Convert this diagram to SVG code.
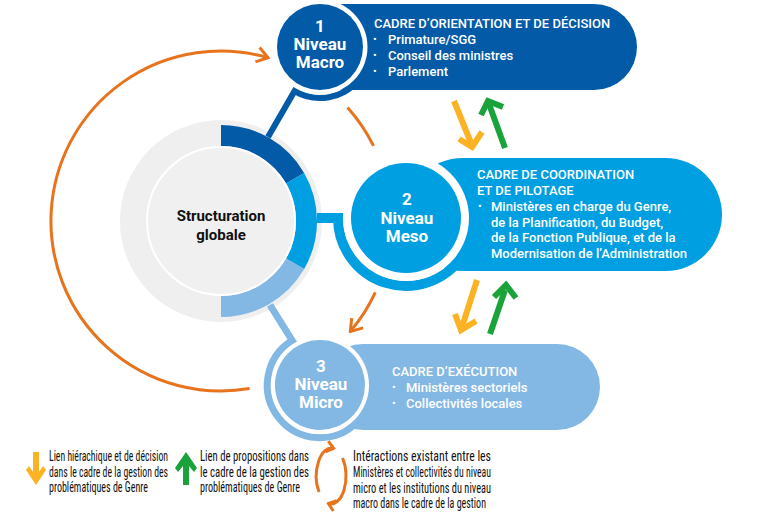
<svg xmlns="http://www.w3.org/2000/svg" width="779" height="513" viewBox="0 0 779 513">
<defs>
<style>
.dk{fill:#035BA8}.md{fill:#009FE1}.lt{fill:#83B8E4}
.wh{fill:#ffffff}
.ctit{font-family:Roboto,"Liberation Sans",sans-serif;font-size:17px;font-weight:700;fill:#fff;text-anchor:middle}
.tt{font-family:Roboto,"Liberation Sans",sans-serif;font-size:13px;font-weight:500;fill:#fff}
.bul{font-family:Roboto,"Liberation Sans",sans-serif;font-size:11px;fill:#fff}
.leg{font-family:"Roboto Condensed","Liberation Sans Narrow",Roboto,sans-serif;font-size:15.5px;fill:#111}
.orng{fill:none;stroke:#E8731D;stroke-width:3}
.ya{fill:none;stroke:#FBB223;stroke-width:6;stroke-linejoin:miter}
.ga{fill:none;stroke:#19A33A;stroke-width:6;stroke-linejoin:miter}
</style>
<marker id="oh" markerUnits="userSpaceOnUse" markerWidth="16" markerHeight="20" viewBox="-14 -10 16 20" refX="0" refY="0" orient="auto">
<path d="M-11,-7.5 L0,0 L-11,7.5" fill="none" stroke="#E8731D" stroke-width="3"/>
</marker>
<marker id="ohs" markerUnits="userSpaceOnUse" markerWidth="12" markerHeight="14" viewBox="-10 -7 12 14" refX="0" refY="0" orient="auto">
<path d="M-7,-5.5 L0,0 L-7,5.5" fill="none" stroke="#E8731D" stroke-width="3"/>
</marker>
</defs>
<rect width="779" height="513" fill="#ffffff"/>

<g id="global">
<circle cx="221" cy="221" r="101" fill="#EFEFEF"/>
<path d="M221,135.5 A85.5,85.5 0 0 1 295.05,178.25" fill="none" stroke="#035BA8" stroke-width="21"/>
<path d="M295.05,178.25 A85.5,85.5 0 0 1 295.05,263.75" fill="none" stroke="#009FE1" stroke-width="21"/>
<path d="M295.05,263.75 A85.5,85.5 0 0 1 221,306.5" fill="none" stroke="#83B8E4" stroke-width="21"/>
<circle cx="221" cy="221" r="74" fill="#F0F0F0" stroke="#ffffff" stroke-width="2"/>
<text x="221" y="221" font-family="Roboto,'Liberation Sans',sans-serif" font-size="15" font-weight="700" fill="#111" text-anchor="middle">Structuration</text>
<text x="221" y="240" font-family="Roboto,'Liberation Sans',sans-serif" font-size="15" font-weight="700" fill="#111" text-anchor="middle">globale</text>
</g>

<g id="connectors">
<path d="M268,137 L294.5,91.2 A51,51 0 0 0 359,79.8" fill="none" stroke="#035BA8" stroke-width="6"/>
<path d="M317,218 H338 A68,68 0 0 0 461.7,257" fill="none" stroke="#009FE1" stroke-width="10"/>
<path d="M270,305 L292.2,340.5 A52.5,52.5 0 1 0 357.1,422.1" fill="none" stroke="#83B8E4" stroke-width="7"/>
<path class="orng" d="M249.6,388.6 A170,170 0 1 1 268.1,57.7" marker-end="url(#oh)"/>
<path class="orng" d="M347.5,107.5 A170,170 0 0 1 373.5,145.9"/>
<path class="orng" d="M375.3,292.3 A170,170 0 0 1 350.3,331.4" marker-end="url(#oh)"/>
<path class="ya" d="M454,101 L471,143"/>
<path class="ya" d="M459,139 L472,147 L482,132"/>
<path class="ga" d="M505,148 L489,104"/>
<path class="ga" d="M481,115 L488,101 L503,107"/>
<path class="ya" d="M477,280 L462,327"/>
<path class="ya" d="M455,314 L461,330 L476,321"/>
<path class="ga" d="M490,334 L505,290"/>
<path class="ga" d="M494,297 L506,285 L516,298"/>
</g>

<g id="macro">
<rect class="dk" x="300" y="4" width="337" height="86" rx="43"/>
<circle class="wh" cx="320" cy="47" r="47.5"/>
<circle class="dk" cx="320" cy="47" r="43"/>
<text class="ctit" x="320" y="32">1</text>
<text class="ctit" x="320" y="50">Niveau</text>
<text class="ctit" x="320" y="68">Macro</text>
<text class="tt" x="374" y="28">CADRE D’ORIENTATION ET DE DÉCISION</text>
<text class="bul" x="373" y="43">•</text><text class="tt" x="388" y="44">Primature/SGG</text>
<text class="bul" x="373" y="59">•</text><text class="tt" x="388" y="60">Conseil des ministres</text>
<text class="bul" x="373" y="75">•</text><text class="tt" x="388" y="76">Parlement</text>
</g>

<g id="meso">
<rect class="md" x="406" y="158" width="316" height="113" rx="56.5"/>
<circle class="wh" cx="406" cy="218" r="63"/>
<circle class="md" cx="406" cy="218" r="55"/>
<text class="ctit" x="407" y="205">2</text>
<text class="ctit" x="407" y="223.5">Niveau</text>
<text class="ctit" x="407" y="242">Meso</text>
<text class="tt" x="477" y="179">CADRE DE COORDINATION</text>
<text class="tt" x="477" y="195">ET DE PILOTAGE</text>
<text class="bul" x="478" y="210">•</text><text class="tt" x="491" y="211">Ministères en charge du Genre,</text>
<text class="tt" x="491" y="226.5">de la Planification, du Budget,</text>
<text class="tt" x="491" y="242">de la Fonction Publique, et de la</text>
<text class="tt" x="491" y="258">Modernisation de l’Administration</text>
</g>

<g id="micro">
<rect class="lt" x="320" y="344" width="280" height="86" rx="43"/>
<circle class="wh" cx="320" cy="385" r="49"/>
<circle class="lt" cx="320" cy="385" r="45"/>
<text class="ctit" x="321" y="372">3</text>
<text class="ctit" x="321" y="390">Niveau</text>
<text class="ctit" x="321" y="408">Micro</text>
<text class="tt" x="392" y="376">CADRE D’EXÉCUTION</text>
<text class="bul" x="392" y="391">•</text><text class="tt" x="406" y="392">Ministères sectoriels</text>
<text class="bul" x="392" y="407">•</text><text class="tt" x="406" y="408">Collectivités locales</text>
</g>

<g id="legend">
<path d="M33,452 H39 V472 L43,466 L46,470 L36,485 L26,470 L29,466 L33,472 Z" fill="#FBB223"/>
<text class="leg" x="49" y="461" textLength="119" lengthAdjust="spacingAndGlyphs">Lien hiérachique et de décision</text>
<text class="leg" x="49" y="476.5" textLength="119" lengthAdjust="spacingAndGlyphs">dans le cadre de la gestion des</text>
<text class="leg" x="49" y="492" textLength="99" lengthAdjust="spacingAndGlyphs">problématiques de Genre</text>
<path d="M183,485 H189 V466 L194,472 L197,468 L186,452 L175,468 L178,472 L183,466 Z" fill="#19A33A"/>
<text class="leg" x="200" y="461" textLength="109" lengthAdjust="spacingAndGlyphs">Lien de propositions dans</text>
<text class="leg" x="200" y="476.5" textLength="109" lengthAdjust="spacingAndGlyphs">le cadre de la gestion des</text>
<text class="leg" x="200" y="492" textLength="100" lengthAdjust="spacingAndGlyphs">problématiques de Genre</text>
<path class="orng" d="M319,492 A15,28 0 0 1 333.6,448.4" marker-end="url(#ohs)"/>
<path class="orng" d="M342.5,458 A15,28 0 0 1 328.4,503.6" marker-end="url(#ohs)"/>
<text class="leg" x="353" y="461" textLength="138" lengthAdjust="spacingAndGlyphs">Intéractions existant entre les</text>
<text class="leg" x="353" y="477" textLength="138" lengthAdjust="spacingAndGlyphs">Ministères et collectivités du niveau</text>
<text class="leg" x="353" y="493" textLength="138" lengthAdjust="spacingAndGlyphs">micro et les institutions du niveau</text>
<text class="leg" x="353" y="508" textLength="133" lengthAdjust="spacingAndGlyphs">macro dans le cadre de la gestion</text>
</g>
</svg>
